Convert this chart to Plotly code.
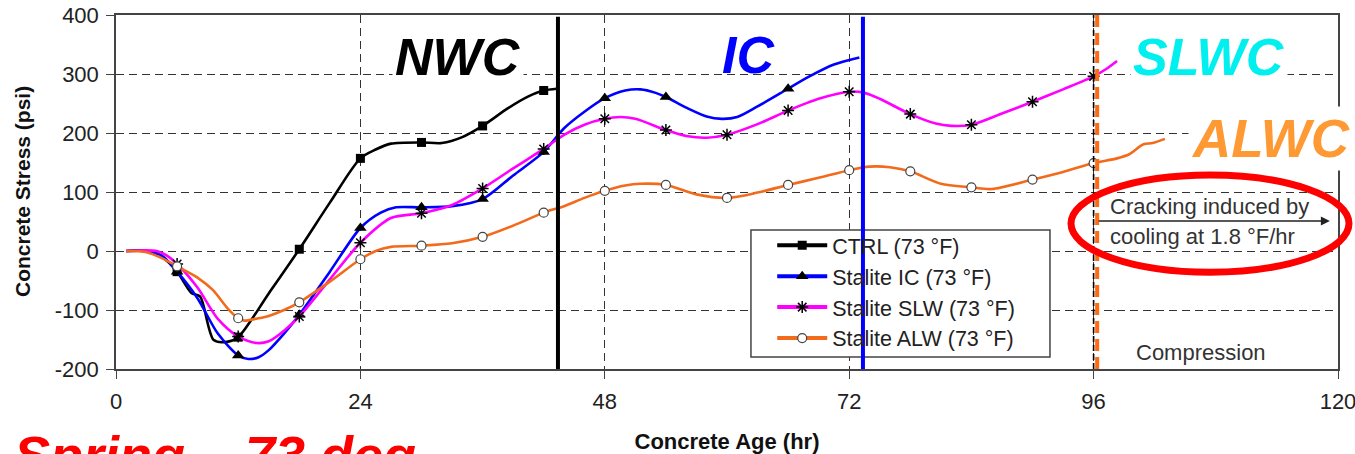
import plotly.graph_objects as go

# ---------------- data ----------------
hours_ctrl = [1, 3, 4.5, 6, 7.4, 8.25, 9.6, 10.9, 12, 15, 18, 21, 24, 25.5, 27, 30, 32, 34, 36, 38.5, 40.5, 42, 43.3]
ctrl = [0, 0, -10, -35, -71, -77, -151, -154, -146, -72, 3, 82, 157, 172, 182, 184, 183, 193, 212, 242, 262, 272, 275]

hours_ic = [1, 3, 4.5, 6, 8, 10, 12, 13, 14, 15, 16.5, 18, 21, 24, 26, 27.5, 30, 33, 36, 39, 42, 44, 46, 48, 50, 51.5, 53, 54, 56, 58, 59.5, 61, 63, 66, 68, 70.5, 73]
ic = [0, 0, -8, -35, -80, -140, -177, -183, -180, -168, -140, -108, -35, 39, 65, 74, 74, 76, 88, 128, 168, 208, 236, 259, 272, 274, 268, 261, 243, 228, 224, 227, 245, 275, 295, 316, 328]

hours_slw = [1, 4, 5, 6, 8, 10, 12, 13.8, 15, 16.5, 18, 21, 24, 27, 30, 33, 36, 39, 42, 44, 46, 48, 49.5, 51, 54, 56, 58, 60, 63, 66, 69, 72, 73.5, 75, 78, 80.5, 82, 84, 87, 90, 93, 96, 97.2, 98.3]
slw = [0, 0, -8, -22, -62, -115, -145, -156, -153, -135, -111, -48, 14, 56, 64, 78, 106, 140, 173, 197, 214, 224, 227, 224, 205, 195, 192, 197, 215, 238, 258, 270, 268, 258, 232, 216, 212, 214, 233, 253, 274, 296, 308, 322]

hours_alw = [1, 3, 4.5, 6, 8, 9.5, 11, 12, 12.6, 14, 15, 16.5, 18, 21, 24, 25.5, 27, 30, 33, 36, 39, 42, 44, 46, 48, 50, 51.5, 54, 57, 60, 63, 66, 69, 72, 74, 76, 78, 81, 84, 86, 90, 93, 96, 98.3, 99.5, 100.9, 101.8, 103]
alw = [0, -2, -12, -26, -45, -66, -98, -114, -118, -114, -110, -100, -87, -52, -14, 0, 7, 9, 13, 24, 43, 65, 76, 90, 102, 111, 114, 112, 96, 90, 99, 112, 124, 137, 143, 142, 135, 114, 108, 105, 121, 134, 149, 157, 164, 181, 183, 190]

series_names = ["CTRL (73 °F)", "Stalite IC (73 °F)", "Stalite SLW (73 °F)", "Stalite ALW (73 °F)"]
x_ticks = [0, 24, 48, 72, 96, 120]
y_ticks = [-200, -100, 0, 100, 200, 300, 400]
y_tick_labels = ["-200", "-100", "0", "100", "200", "300", "400"]
zone_lines = [43.4, 73.35, 96.35]   # NWC end, IC end, cooling start

# ---------------- styles ----------------
FONT = "Liberation Sans, Arial, sans-serif"
colors = ["#000000", "#0000FF", "#FF00FF", "#F26B1D"]
markers = [
    dict(symbol="square", size=9, color="#000000"),
    dict(symbol="triangle-up", size=11, color="#000000"),
    dict(symbol="asterisk-open", size=10, color="#000000", line=dict(color="#000000", width=1.5)),
    dict(symbol="circle", size=9, color="#FFFFFF", line=dict(color="#444444", width=1.2)),
]

fig = go.Figure()
all_series = [(hours_ctrl, ctrl), (hours_ic, ic), (hours_slw, slw), (hours_alw, alw)]
for (hx, vy), name, col, mk in zip(all_series, series_names, colors, markers):
    fig.add_trace(go.Scatter(x=hx, y=vy, mode="lines",
                             line=dict(color=col, width=2.6, shape="spline", smoothing=0.8),
                             showlegend=False, hoverinfo="skip"))
    mx = [h for h in hx if h % 6 == 0]
    my = [v for h, v in zip(hx, vy) if h % 6 == 0]
    fig.add_trace(go.Scatter(x=mx, y=my, mode="markers", marker=mk, showlegend=False, hoverinfo="skip"))
    fig.add_trace(go.Scatter(x=[None], y=[None], mode="lines+markers", name=name,
                             line=dict(color=col, width=4), marker=mk))

axis_common = dict(showgrid=True, gridcolor="#333333", gridwidth=1, griddash="8px,5px",
                   showline=True, linecolor="#444444", linewidth=1.5, mirror=True,
                   ticks="outside", ticklen=8, tickcolor="#444444", zeroline=False, automargin=False,
                   ticklabeloverflow="allow",
                   tickfont=dict(size=22, color="#222222", family=FONT))

fig.update_xaxes(range=[0, 120], tickvals=x_ticks, ticklabelstandoff=4,
                 title=dict(text="Concrete Age (hr)", font=dict(size=22, family=FONT, weight="bold", color="#111"),
                            standoff=22),
                 **axis_common)
fig.update_yaxes(range=[-200, 400], tickvals=y_ticks, ticktext=y_tick_labels, ticklabelstandoff=3,
                 **axis_common)

# y axis title as a rotated annotation (placed as in the reference)
fig.add_annotation(x=-0.0769, y=0.5, xref="paper", yref="paper", xanchor="center", yanchor="middle",
                   textangle=-90, showarrow=False, text="Concrete Stress (psi)",
                   font=dict(size=21, family=FONT, weight="bold", color="#111"))

# legend box (drawn as a shape so the blue zone line can cross it, as in the reference)
fig.add_shape(type="rect", xref="paper", yref="paper", x0=0.5196, x1=0.7643, y0=0.034, y1=0.393,
              fillcolor="white", line=dict(color="#444", width=1.5), layer="above")

# vertical zone lines
fig.add_shape(type="line", xref="x", yref="paper", x0=zone_lines[0], x1=zone_lines[0], y0=0, y1=0.995,
              line=dict(color="#000000", width=4))
fig.add_shape(type="line", xref="x", yref="paper", x0=zone_lines[1], x1=zone_lines[1], y0=0, y1=0.995,
              line=dict(color="#0000FF", width=4))
fig.add_shape(type="line", xref="x", yref="paper", x0=x_ticks[4], x1=x_ticks[4], y0=0, y1=1,
              line=dict(color="#000000", width=1.6, dash="6px,3px"))
fig.add_shape(type="line", xref="x", yref="paper", x0=zone_lines[2], x1=zone_lines[2], y0=0, y1=1,
              line=dict(color="#FF6A13", width=4, dash="12px,6px"))

# red ellipse
fig.add_shape(type="circle", xref="paper", yref="paper", x0=0.7815, x1=1.009, y0=0.2734, y1=0.548,
              line=dict(color="#FF0000", width=7))

# arrow + cracking text
fig.add_annotation(x=119.2, y=51, ax=zone_lines[2], ay=51, xref="x", yref="y", axref="x", ayref="y",
                   text="", showarrow=True, arrowhead=2, arrowsize=1.2, arrowwidth=1.5, arrowcolor="#222")
fig.add_annotation(x=97.4, y=75, xref="x", yref="y", xanchor="left", yanchor="middle", showarrow=False,
                   text="Cracking induced by", font=dict(size=22, family=FONT, color="#333"))
fig.add_annotation(x=97.4, y=24, xref="x", yref="y", xanchor="left", yanchor="middle", showarrow=False,
                   text="cooling at 1.8 °F/hr", font=dict(size=22, family=FONT, color="#333"))
fig.add_annotation(x=106.5, y=-172, xref="x", yref="y", xanchor="center", yanchor="middle", showarrow=False,
                   text="Compression", font=dict(size=22, family=FONT, color="#333"))

# big zone labels
def big(text, x, y, color, bg=True, size=52):
    fig.add_annotation(x=x, y=y, xref="paper", yref="paper", xanchor="center", yanchor="middle",
                       showarrow=False, text=text, bgcolor="white" if bg else None, borderpad=2,
                       font=dict(size=size, family=FONT, weight="bold", style="italic", color=color))

big("NWC", 0.2799, 0.881, "#000000")
big("IC", 0.518, 0.887, "#0000FF", bg=False)
big("SLWC", 0.8944, 0.881, "#00F0F0")
big("ALWC", 0.945, 0.650, "#FF9933", size=53)

fig.add_annotation(x=-0.085, y=-0.243, xref="paper", yref="paper", xanchor="left", yanchor="middle",
                   showarrow=False, text="Spring – 73 deg",
                   font=dict(size=54, family=FONT, weight="bold", style="italic", color="#FF0000"))

fig.update_layout(
    width=1355, height=454,
    margin=dict(l=116, r=17, t=15, b=85),
    plot_bgcolor="white", paper_bgcolor="white",
    font=dict(family=FONT, size=22, color="#222"),
    legend=dict(x=0.537, y=0.4075, xanchor="left", yanchor="top", bgcolor="rgba(0,0,0,0)",
                borderwidth=0, font=dict(size=21.5, family=FONT, color="#222"),
                itemwidth=50, tracegroupgap=0),
)

# remove the browser's default 8px body margin so the figure fills the window
fig.write_html("out.html", config={"displayModeBar": False},
               post_script="document.body.style.margin='0px';")
